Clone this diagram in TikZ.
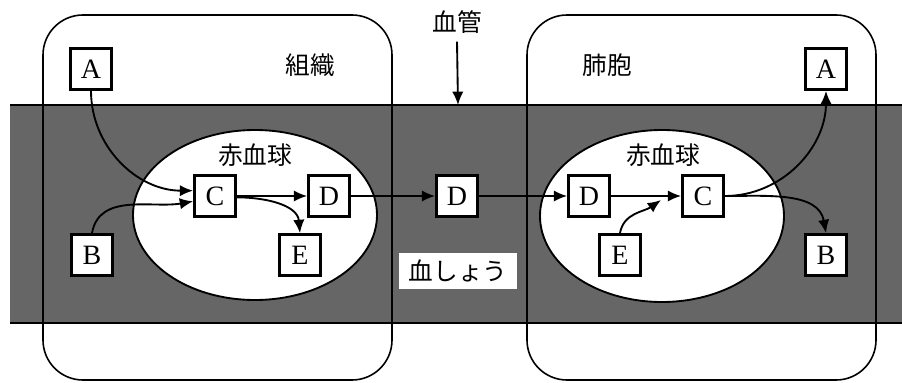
\documentclass[tikz,border=0pt]{standalone}
\usepackage{fontspec}
\setmainfont{Liberation Serif}
\newfontfamily\jp{Noto Sans CJK JP}
\usetikzlibrary{arrows.meta}
\definecolor{bandcol}{HTML}{666666}
\begin{document}
\begin{tikzpicture}[x=0.75pt,y=-0.75pt,
  box/.style={draw,line width=1.8pt,fill=white,minimum width=31pt,minimum height=31pt,inner sep=0pt,font=\fontsize{21}{21}\selectfont},
  jlab/.style={font=\jp\fontsize{18.5}{18.5}\selectfont,inner sep=0pt},
  arr/.style={line width=1.4pt,-{Latex[length=10pt,width=8.5pt]}},
  region/.style={draw,line width=1.2pt,rounded corners=30pt},
  cell/.style={draw,line width=1.4pt,fill=white}]
\useasboundingbox (0,0) rectangle (902,382);
% blood vessel band
\fill[bandcol] (10,105) rectangle (902,323);
\draw[line width=0.8pt] (10,105) -- (902,105);
\draw[line width=1.3pt] (10,323) -- (902,323);
% tissue / alveolus regions
\draw[region] (43,15) rectangle (392,380);
\draw[region] (527,15) rectangle (876,380);
% red blood cells
\draw[cell] (255,215) ellipse [x radius=91.5pt, y radius=63.75pt];
\draw[cell] (662,216) ellipse [x radius=91.5pt, y radius=64.5pt];
% labels
\node[jlab] (soshiki) at (310,65) {組織};
\node[jlab] (haiho) at (607,65) {肺胞};
\node[jlab] (rbcL) at (255,155) {赤血球};
\node[jlab] (rbcR) at (663,155) {赤血球};
\node[jlab] (kekkan) at (457,22) {血管};
\coordinate (bandtop) at (458,105);
\node[jlab,fill=white,minimum width=88pt,minimum height=27pt] (plasma) at (458,271) {血しょう};
% boxes left
\node[box] (Al) at (91,69) {A};
\node[box] (Bl) at (92,255) {B};
\node[box] (Cl) at (215,196) {C};
\node[box] (Dl) at (329,196) {D};
\node[box] (El) at (300,255) {E};
% middle
\node[box] (Dm) at (457,196) {D};
% boxes right
\node[box] (Dr) at (589,196) {D};
\node[box] (Cr) at (703,196) {C};
\node[box] (Er) at (620,255) {E};
\node[box] (Ar) at (826,69) {A};
\node[box] (Br) at (826,255) {B};
\coordinate (Ejoin) at (661,200);
% arrows
\draw[arr] (kekkan.south) ++(0,8) -- (bandtop);
\draw[arr] (Al.south) to[out=-90,in=180] ([yshift=4pt]Cl.west);
\draw[arr] (Bl.north) to[out=80,in=190] ([yshift=-4pt]Cl.west);
\draw[arr] (Cl.east) -- (Dl.west);
\draw[arr] ([yshift=-1pt]Cl.east) to[out=0,in=95] (El.north);
\draw[arr] (Dl.east) -- (Dm.west);
\draw[arr] (Dm.east) -- (Dr.west);
\draw[arr] (Dr.east) -- (Cr.west);
\draw[arr] (Er.north) to[out=80,in=215] (Ejoin);
\draw[arr] (Cr.east) to[out=0,in=-90] (Ar.south);
\draw[arr] (Cr.east) to[out=0,in=100] (Br.north);
\end{tikzpicture}
\end{document}
